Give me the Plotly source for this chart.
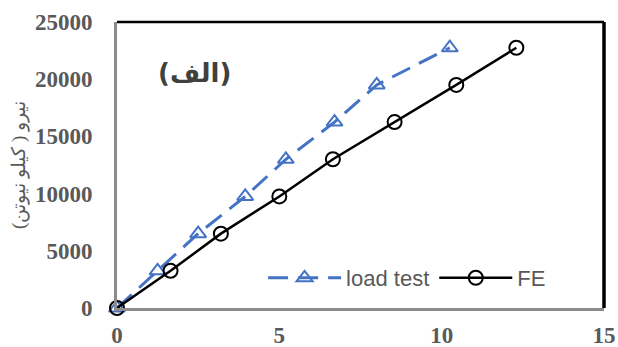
import plotly.graph_objects as go

load_x = [0, 1.25, 2.5, 3.95, 5.2, 6.7, 8.0, 10.25]
load_y = [0, 3250, 6500, 9750, 13000, 16250, 19500, 22750]
fe_x = [0, 1.65, 3.2, 5.0, 6.65, 8.55, 10.45, 12.3]
fe_y = [0, 3250, 6500, 9750, 13000, 16250, 19500, 22750]
x_ticks = [0, 5, 10, 15]
y_ticks = [0, 5000, 10000, 15000, 20000, 25000]

fig = go.Figure()
fig.add_trace(go.Scatter(
    x=load_x, y=load_y, name="load test", mode="lines+markers",
    line=dict(color="#4472C4", width=3, dash="20px,10px"),
    marker=dict(symbol="triangle-up-open", size=14, color="#4472C4", line=dict(width=2, color="#4472C4")),
))
fig.add_trace(go.Scatter(
    x=fe_x, y=fe_y, name="FE", mode="lines+markers",
    line=dict(color="black", width=2.5),
    marker=dict(symbol="circle-open", size=14, color="black", line=dict(width=2, color="black")),
))

tickfont = dict(family="Liberation Serif", size=23, color="#595959")
fig.update_layout(
    width=618, height=347,
    margin=dict(l=117, r=14, t=22, b=39),
    paper_bgcolor="white", plot_bgcolor="white",
    showlegend=True,
    legend=dict(orientation="h", x=0.30, y=0.105, xanchor="left", yanchor="middle",
                font=dict(family="Liberation Sans", size=22, color="#595959"),
                itemwidth=73, bgcolor="rgba(0,0,0,0)", traceorder="normal"),
    xaxis=dict(range=[0, 15], tickvals=x_ticks, ticktext=["<b>%d</b>" % v for v in x_ticks],
               ticks="", showgrid=False, zeroline=False, automargin=False,
               showline=True, linecolor="#8c8c8c", linewidth=3, tickfont=tickfont, ticklabelstandoff=4),
    yaxis=dict(range=[0, 25000], tickvals=y_ticks, ticktext=["<b>%d</b>" % v for v in y_ticks],
               ticks="", showgrid=False, zeroline=False, automargin=False,
               showline=True, linecolor="#8c8c8c", linewidth=3, tickfont=tickfont,
               ticklabelstandoff=17,
               title=dict(text="نیرو ( کیلو نیوتن)", font=dict(family="Liberation Serif", size=19, color="#595959"), standoff=5)),
    annotations=[dict(text="<b>(الف)</b>", x=0.16, y=0.82, xref="paper", yref="paper",
                      xanchor="center", yanchor="middle",
                      showarrow=False, font=dict(family="DejaVu Sans", size=26, color="#404040"))],
    shapes=[
        dict(type="line", xref="paper", yref="paper", x0=0, x1=1, y0=1, y1=1, line=dict(color="black", width=2.5)),
        dict(type="line", xref="paper", yref="paper", x0=1, x1=1, y0=0, y1=1, line=dict(color="black", width=3.5)),
    ],
)
fig.update_traces(cliponaxis=False)
fig.write_html("out.html", config={"displayModeBar": False},
               post_script="document.body.style.margin='0';document.body.style.overflow='hidden';")
